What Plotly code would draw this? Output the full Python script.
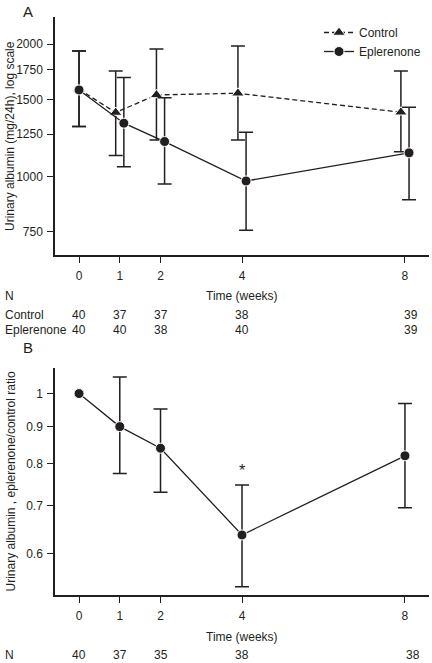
import math
import plotly.graph_objects as go

# ---------------- data ----------------
weeks = [0, 1, 2, 4, 8]
week_labels = ["0", "1", "2", "4", "8"]

control_mean = [1580, 1400, 1535, 1548, 1402]
control_upper = [1931, 1740, 1951, 1982, 1740]
control_lower = [1301, 1118, 1213, 1213, 1141]

epl_mean = [1575, 1324, 1203, 979, 1134]
epl_upper = [1931, 1680, 1513, 1263, 1439]
epl_lower = [1301, 1055, 964, 757, 887]

n_control = [40, 37, 37, 38, 39]
n_epl = [40, 40, 38, 40, 39]

ratio = [1.0, 0.90, 0.840, 0.637, 0.820]
ratio_upper = [None, 1.054, 0.952, 0.747, 0.969]
ratio_lower = [None, 0.775, 0.730, 0.540, 0.695]
n_ratio = [40, 37, 35, 38, 38]

a_ticks = [750, 1000, 1250, 1500, 1750, 2000]
b_ticks = [0.6, 0.7, 0.8, 0.9, 1]
b_ticktext = ["0.6", "0.7", "0.8", "0.9", "1"]

# ---------------- style ----------------
W, H = 432, 663
INK = "#231f20"
FONT = "Liberation Sans, Arial, Helvetica, sans-serif"
DODGE = 0.1


def px_x(p):
    return p / W


def px_y(p):
    return 1 - p / H


def up(mean, upper):
    return [u - m for m, u in zip(mean, upper)]


def down(mean, lower):
    return [m - l for m, l in zip(mean, lower)]


ctrl_x = [w - DODGE if w > 0 else w for w in weeks]
epl_x = [w + DODGE if w > 0 else w for w in weeks]

fig = go.Figure()

fig.add_trace(go.Scatter(
    x=ctrl_x, y=control_mean, name="Control", mode="lines+markers",
    line=dict(color=INK, width=1.3, dash="5px,3px"),
    marker=dict(symbol="triangle-up", size=11, color=INK, line=dict(color="white", width=1)),
    error_y=dict(type="data", symmetric=False, array=up(control_mean, control_upper),
                 arrayminus=down(control_mean, control_lower),
                 color=INK, thickness=1.5, width=7),
    xaxis="x", yaxis="y",
))

fig.add_trace(go.Scatter(
    x=epl_x, y=epl_mean, name="Eplerenone", mode="lines+markers",
    line=dict(color=INK, width=1.3),
    marker=dict(symbol="circle", size=10, color=INK, line=dict(color="white", width=1)),
    error_y=dict(type="data", symmetric=False, array=up(epl_mean, epl_upper),
                 arrayminus=down(epl_mean, epl_lower),
                 color=INK, thickness=1.5, width=7),
    xaxis="x", yaxis="y",
))

# ratio: error bars only where an interval exists
has_err = [i for i, u in enumerate(ratio_upper) if u is not None]
err_w = [weeks[i] for i in has_err]
err_m = [ratio[i] for i in has_err]
err_u = [ratio_upper[i] for i in has_err]
err_l = [ratio_lower[i] for i in has_err]

fig.add_trace(go.Scatter(
    x=err_w, y=err_m, mode="markers", showlegend=False, hoverinfo="skip",
    marker=dict(size=1, color="rgba(0,0,0,0)"),
    error_y=dict(type="data", symmetric=False, array=up(err_m, err_u),
                 arrayminus=down(err_m, err_l),
                 color=INK, thickness=1.5, width=7),
    xaxis="x2", yaxis="y2",
))

fig.add_trace(go.Scatter(
    x=weeks, y=ratio, name="Ratio", mode="lines+markers", showlegend=False,
    line=dict(color=INK, width=1.3),
    marker=dict(symbol="circle", size=10, color=INK, line=dict(color="white", width=1)),
    xaxis="x2", yaxis="y2",
))

x_dom = [px_x(55), px_x(429)]
axis_common = dict(
    showline=True, linecolor=INK, linewidth=1.5, showgrid=False, zeroline=False,
    ticks="outside", ticklen=6, tickwidth=1.3, tickcolor=INK,
    tickfont=dict(family=FONT, size=12, color=INK),
)

fig.update_layout(
    width=W, height=H, margin=dict(l=0, r=0, t=0, b=0),
    paper_bgcolor="white", plot_bgcolor="white",
    font=dict(family=FONT, size=12, color=INK),
    xaxis=dict(domain=x_dom, range=[-0.59, 8.59], tickvals=weeks, ticktext=week_labels,
               anchor="y", ticklabelstandoff=3, **axis_common),
    yaxis=dict(domain=[px_y(255), px_y(17)], type="log",
               range=[math.log10(665), math.log10(2306)],
               tickvals=a_ticks, ticktext=[str(t) for t in a_ticks],
               anchor="x", ticklabelstandoff=2, **axis_common),
    xaxis2=dict(domain=x_dom, range=[-0.59, 8.59], tickvals=weeks, ticktext=week_labels,
                anchor="y2", ticklabelstandoff=3, **axis_common),
    yaxis2=dict(domain=[px_y(595), px_y(368)], type="log",
                range=[math.log10(0.526), math.log10(1.085)],
                tickvals=b_ticks, ticktext=b_ticktext,
                anchor="x2", ticklabelstandoff=2, **axis_common),
    legend=dict(x=px_x(319), y=px_y(18), xanchor="left", yanchor="top",
                bgcolor="rgba(0,0,0,0)", font=dict(family=FONT, size=12, color=INK),
                tracegroupgap=0),
    showlegend=True,
)

ann = []


def text(x, y, s, xref="paper", xanchor="center", size=12, angle=0, xshift=0):
    ann.append(dict(x=x, y=y, xref=xref, yref="paper", text=s, showarrow=False,
                    xanchor=xanchor, yanchor="middle", textangle=angle, xshift=xshift,
                    font=dict(family=FONT, size=size, color=INK)))


# panel letters
text(px_x(28), px_y(11), "A", size=15)
text(px_x(28), px_y(347), "B", size=15)

# y titles
text(px_x(10), px_y(136), "Urinary albumin (mg/24h), log scale", angle=-90)
text(px_x(10), px_y(481.5), "Urinary albumin , eplerenone/control ratio", angle=-90)

# x titles and N tables
text(px_x(242), px_y(296), "Time (weeks)")
text(px_x(3), px_y(296), "N", xanchor="left")
text(px_x(3), px_y(315), "Control", xanchor="left")
text(px_x(3), px_y(330), "Eplerenone", xanchor="left")
for w, nc, ne in zip(weeks, n_control, n_epl):
    sh = 6 if w == weeks[-1] else 0
    text(w, px_y(315), str(nc), xref="x", xshift=sh)
    text(w, px_y(330), str(ne), xref="x", xshift=sh)

text(px_x(242), px_y(637), "Time (weeks)")
text(px_x(3), px_y(655), "N", xanchor="left")
for w, n in zip(weeks, n_ratio):
    sh = 8 if w == weeks[-1] else 0
    text(w, px_y(655), str(n), xref="x2", xshift=sh)

# significance marker
ann.append(dict(x=weeks[3], y=math.log10(ratio_upper[3]), xref="x2", yref="y2", text="*",
                showarrow=False, xanchor="center", yanchor="bottom", yshift=4,
                font=dict(family=FONT, size=16, color=INK)))

fig.update_layout(annotations=ann)

fig.write_html(
    "out.html",
    config={"displayModeBar": False},
    post_script="document.body.style.margin='0';document.body.style.overflow='hidden';",
)
